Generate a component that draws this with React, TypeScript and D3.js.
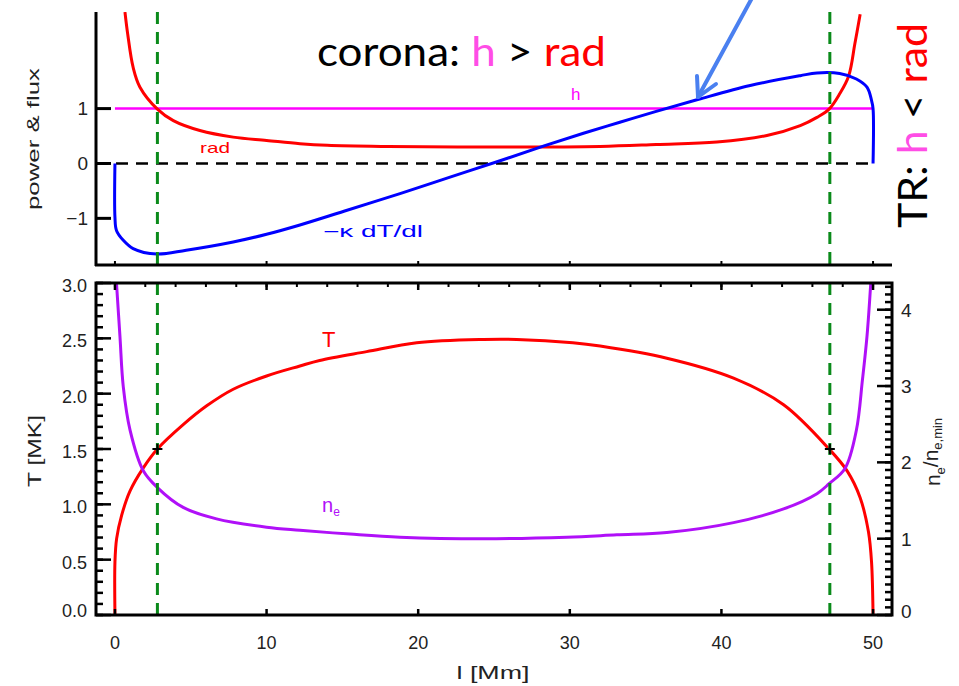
import React from "react";
import * as d3 from "d3";

// ---- data ----
const radL = [0.66, 0.84, 1.2, 1.65, 2.8, 3.85, 5.6, 7.8, 10, 12.2, 14, 18, 25, 32, 35.7, 39.7, 43, 45.2, 46.3, 47.1, 47.8, 48.4, 48.8, 49.15];
const radV = [2.76, 2.36, 1.75, 1.39, 0.99, 0.78, 0.6, 0.48, 0.42, 0.36, 0.33, 0.31, 0.3, 0.31, 0.345, 0.39, 0.51, 0.69, 0.84, 0.99, 1.27, 1.6, 2.18, 2.72];

const fluxL = [0, 0, 0.1, 0.55, 1.2, 2.75, 4.7, 7.8, 10, 12.2, 15.1, 18.8, 22.1, 25.4, 28.3, 30.9, 33.3, 35.7, 38.5, 41.9, 45.2, 46.3, 47.8, 48.9, 49.6, 49.9, 50, 50];
const fluxV = [0, -0.98, -1.22, -1.4, -1.55, -1.65, -1.58, -1.43, -1.29, -1.12, -0.87, -0.55, -0.25, 0.05, 0.32, 0.55, 0.75, 0.95, 1.17, 1.42, 1.6, 1.65, 1.64, 1.54, 1.39, 1.15, 1.0, 0];

const heatL = [0, 50];
const heatV = [1, 1];

const tempL = [0, 0, 0.11, 0.44, 0.99, 1.87, 2.8, 4.5, 6.05, 7.8, 10, 12.2, 13.5, 16.6, 19.9, 24.3, 26.5, 30.2, 32, 36.4, 40.8, 44.1, 47.1, 48.3, 49.15, 49.7, 49.9, 50];
const tempV = [0, 0.48, 0.69, 0.9, 1.12, 1.33, 1.5, 1.72, 1.89, 2.04, 2.16, 2.25, 2.3, 2.38, 2.46, 2.49, 2.49, 2.46, 2.43, 2.32, 2.14, 1.9, 1.5, 1.3, 1.06, 0.75, 0.48, 0];

const densL = [0.1, 0.33, 0.55, 1.0, 1.87, 2.8, 4.5, 6.7, 10, 12.2, 15.5, 18.8, 24.3, 29.8, 33.1, 36.4, 40.8, 44.1, 46.3, 47.1, 48.15, 48.9, 49.3, 49.6, 49.85];
const densV = [4.35, 3.65, 2.99, 2.42, 1.89, 1.67, 1.41, 1.26, 1.15, 1.11, 1.06, 1.02, 1.0, 1.02, 1.05, 1.08, 1.21, 1.39, 1.59, 1.72, 1.92, 2.42, 3.08, 3.65, 4.35];

const boundaryL = [2.8, 47.15];
const markerL = [2.8, 47.15];
const markerT = [1.5, 1.5];

const xTicks = [0, 10, 20, 30, 40, 50];
const xMinor = d3.range(0, 51, 2);
const topYTicks = [-1, 0, 1];
const tYTicks = [0, 0.5, 1.0, 1.5, 2.0, 2.5, 3.0];
const tYMinor = d3.range(0, 31).map((d) => d / 10);
const nYTicks = [0, 1, 2, 3, 4];
const nYMinor = d3.range(0, 44).map((d) => d / 10);

const RED = "#ff0000";
const BLUE = "#0000ff";
const MAG = "#ff00ff";
const PURPLE = "#b010f8";
const GREEN = "#0a8a1a";
const AX = "#000";
const LBL = "#222";
const FONT = "'Liberation Sans', Arial, sans-serif";

export default function App() {
  const x = d3.scaleLinear().domain([-1.25, 51.25]).range([96, 892]);
  const yTop = d3.scaleLinear().domain([-1.85, 2.76]).range([265, 12]);
  const yT = d3.scaleLinear().domain([0, 3]).range([615, 283]);
  const yN = d3.scaleLinear().domain([0, 4.35]).range([615, 283]);

  const curve = d3.curveCatmullRom.alpha(0.5);
  const mk = (L: number[], V: number[], ys: d3.ScaleLinear<number, number>) =>
    d3
      .line<number>()
      .curve(curve)
      .x((d) => x(d))
      .y((_, i) => ys(V[i]))(L) as string;

  const xL = x(-1.25);
  const xR = x(51.25);

  return (
    <svg
      width={959}
      height={686}
      style={{ position: "absolute", left: 0, top: 0, background: "#fff" }}
      fontFamily={FONT}
    >
      <defs>
        <clipPath id="clipTop">
          <rect x={xL} y={yTop(2.76)} width={xR - xL} height={yTop(-1.85) - yTop(2.76)} />
        </clipPath>
        <clipPath id="clipBot">
          <rect x={xL} y={283} width={xR - xL} height={615 - 283} />
        </clipPath>
      </defs>

      {/* ===== top panel ===== */}
      <g clipPath="url(#clipTop)">
        <line x1={xL} x2={x(50)} y1={yTop(0)} y2={yTop(0)} stroke="#000" strokeWidth={2.5} strokeDasharray="12 8" />
        <path d={mk(heatL, heatV, yTop)} fill="none" stroke={MAG} strokeWidth={2.5} />
        <path d={mk(radL, radV, yTop)} fill="none" stroke={RED} strokeWidth={3} />
        <path d={mk(fluxL, fluxV, yTop)} fill="none" stroke={BLUE} strokeWidth={3} />
      </g>
      {boundaryL.map((b, i) => (
        <line key={"gt" + i} x1={x(b)} x2={x(b)} y1={yTop(2.76)} y2={yTop(-1.85)} stroke={GREEN} strokeWidth={3} strokeDasharray="12 8" />
      ))}
      {/* top axes */}
      <line x1={xL} x2={xL} y1={12} y2={266} stroke={AX} strokeWidth={3} />
      <line x1={xL - 1} x2={xR} y1={265} y2={265} stroke={AX} strokeWidth={3} />
      {topYTicks.map((t) => (
        <g key={"ty" + t}>
          <line x1={xL} x2={xL + 15} y1={yTop(t)} y2={yTop(t)} stroke={AX} strokeWidth={3} />
          <text x={88} y={yTop(t)} dy="0.36em" textAnchor="end" fontSize={19} fill={LBL}>
            {t < 0 ? "\u2212" + Math.abs(t) : t}
          </text>
        </g>
      ))}
      {xTicks.map((t) => (
        <line key={"tx" + t} x1={x(t)} x2={x(t)} y1={265} y2={261} stroke={AX} strokeWidth={2} />
      ))}
      <text transform={`translate(39,139) rotate(-90)`} textAnchor="middle" fontSize={16} fill={LBL} textLength={142} lengthAdjust="spacingAndGlyphs">
        power &amp; flux
      </text>
      <text x={200} y={153} fontSize={15} fill={RED} textLength={30} lengthAdjust="spacingAndGlyphs">rad</text>
      <text x={571} y={100} fontSize={17} fill={MAG}>h</text>
      <text x={323} y={237} fontSize={16} fill={BLUE} textLength={100} lengthAdjust="spacingAndGlyphs">{"\u2212\u03ba dT/dl"}</text>

      {/* annotations */}
      <text x={317} y={66} fontSize={40} fontFamily="Lato, 'Open Sans', sans-serif" textLength={289} lengthAdjust="spacingAndGlyphs">
        <tspan fill="#000">corona: </tspan>
        <tspan fill="#ff4de6">h</tspan>
        <tspan fill="#000">{" > "}</tspan>
        <tspan fill={RED}>rad</tspan>
      </text>
      <text
        transform={`translate(927,125.5) rotate(-90)`}
        textAnchor="middle"
        fontSize={40}
        fontFamily="Lato, 'Open Sans', sans-serif"
        textLength={205}
        lengthAdjust="spacingAndGlyphs"
      >
        <tspan fill="#000">TR: </tspan>
        <tspan fill="#ff4de6">h</tspan>
        <tspan fill="#000">{" < "}</tspan>
        <tspan fill={RED}>rad</tspan>
      </text>
      {/* arrow */}
      <g stroke="#4a80f0" strokeWidth={4} strokeLinecap="round" fill="none">
        <line x1={752} y1={-2} x2={698} y2={97} />
        <line x1={698} y1={97} x2={697} y2={76} />
        <line x1={698} y1={97} x2={716} y2={84} />
      </g>

      {/* ===== bottom panel ===== */}
      <g clipPath="url(#clipBot)">
        <path d={mk(tempL, tempV, yT)} fill="none" stroke={RED} strokeWidth={3} />
        <path d={mk(densL, densV, yN)} fill="none" stroke={PURPLE} strokeWidth={3} />
      </g>
      {boundaryL.map((b, i) => (
        <line key={"gb" + i} x1={x(b)} x2={x(b)} y1={283} y2={615} stroke={GREEN} strokeWidth={3} strokeDasharray="12 8" />
      ))}
      {markerL.map((m, i) => (
        <g key={"mk" + i} stroke="#000" strokeWidth={2}>
          <line x1={x(m) - 5} x2={x(m) + 5} y1={yT(markerT[i])} y2={yT(markerT[i])} />
          <line x1={x(m)} x2={x(m)} y1={yT(markerT[i]) - 5} y2={yT(markerT[i]) + 5} />
        </g>
      ))}
      {/* frame */}
      <rect x={xL} y={283} width={xR - xL} height={615 - 283} fill="none" stroke={AX} strokeWidth={3} />
      {/* left minor/major */}
      {tYMinor.map((t) => (
        <line key={"lm" + t} x1={xL} x2={xL + 7} y1={yT(t)} y2={yT(t)} stroke={AX} strokeWidth={2.5} />
      ))}
      {tYTicks.map((t) => (
        <g key={"lt" + t}>
          <line x1={xL} x2={xL + 15} y1={yT(t)} y2={yT(t)} stroke={AX} strokeWidth={2.5} />
          <text x={87} y={yT(t)} dy={t === 0 ? "0.1em" : "0.5em"} textAnchor="end" fontSize={18} fill={LBL}>
            {t.toFixed(1)}
          </text>
        </g>
      ))}
      {/* right minor/major */}
      {nYMinor.map((t) => (
        <line key={"rm" + t} x1={xR} x2={xR - 7} y1={yN(t)} y2={yN(t)} stroke={AX} strokeWidth={2.5} />
      ))}
      {nYTicks.map((t) => (
        <g key={"rt" + t}>
          <line x1={xR} x2={xR - 15} y1={yN(t)} y2={yN(t)} stroke={AX} strokeWidth={2.5} />
          <text x={901} y={yN(t)} dy={t === 0 ? "0.15em" : "0.36em"} textAnchor="start" fontSize={19} fill={LBL}>
            {t}
          </text>
        </g>
      ))}
      {/* top minor/major */}
      {xMinor.map((t) => (
        <line key={"xm" + t} x1={x(t)} x2={x(t)} y1={283} y2={287} stroke={AX} strokeWidth={2} />
      ))}
      {xTicks.map((t) => (
        <g key={"xt" + t}>
          <line x1={x(t)} x2={x(t)} y1={283} y2={290} stroke={AX} strokeWidth={2.5} />
          <line x1={x(t)} x2={x(t)} y1={615} y2={609} stroke={AX} strokeWidth={2.5} />
          <text x={x(t)} y={643} dy="0.36em" textAnchor="middle" fontSize={18} fill={LBL}>
            {t}
          </text>
        </g>
      ))}
      <text x={493} y={673} dy="0.36em" textAnchor="middle" fontSize={18} fill={LBL} textLength={73} lengthAdjust="spacingAndGlyphs">
        l [Mm]
      </text>
      <text transform={`translate(35,451) rotate(-90)`} dy="0.36em" textAnchor="middle" fontSize={18} fill={LBL} textLength={72} lengthAdjust="spacingAndGlyphs">
        T [MK]
      </text>
      <text transform={`translate(934,452) rotate(-90)`} dy="0.3em" textAnchor="middle" fontSize={21} fill={LBL}>
        <tspan>n</tspan>
        <tspan fontSize={13} dy="0.35em">e</tspan>
        <tspan dy="-0.35em">/n</tspan>
        <tspan fontSize={13} dy="0.35em">e,min</tspan>
      </text>
      <text x={322} y={347} fontSize={22} fill={RED}>T</text>
      <text x={322} y={512} fontSize={20} fill={PURPLE}>
        n<tspan fontSize={12} dy="0.3em">e</tspan>
      </text>
    </svg>
  );
}
